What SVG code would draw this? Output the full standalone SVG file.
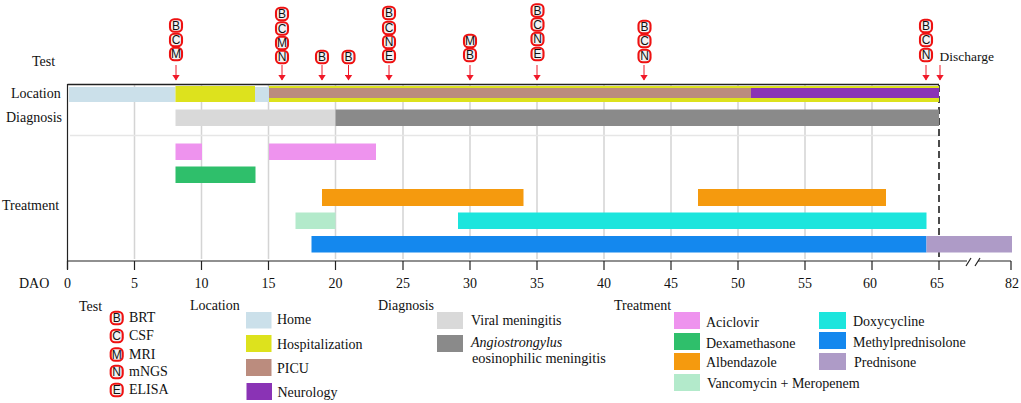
<svg xmlns="http://www.w3.org/2000/svg" width="1021" height="403" viewBox="0 0 1021 403">
<style>
text{font-family:"Liberation Serif","Times New Roman",serif;font-size:14px;fill:#111}
.m{text-anchor:middle}
.b{font-family:"Liberation Sans",Arial,sans-serif;font-size:12px;text-anchor:middle;fill:#111}
.grid{stroke:#d4d4d4;stroke-width:1.5;fill:none}
.ax{stroke:#222;stroke-width:1.2;fill:none}
.arrow{stroke:#f01828;stroke-width:1;fill:none;marker-end:url(#ah)}
.home{fill:#cbe0ea}.hosp{fill:#dde21d}.picu{fill:#bb8c7e}.neuro{fill:#8a33b5}
.viral{fill:#d9d9d9}.ang{fill:#8a8a8a}
.acic{fill:#ee93ee}.dexa{fill:#2fbf6b}.alb{fill:#f59a0e}.vanc{fill:#b3eacb}
.doxy{fill:#1ce5dd}.meth{fill:#1488ee}.pred{fill:#ae9bc7}
</style>
<defs>
<marker id="ah" viewBox="0 0 6 8" refX="5.5" refY="4" markerWidth="6" markerHeight="8" orient="auto" markerUnits="userSpaceOnUse"><path d="M0 0L6 4L0 8Z" fill="#f01828"/></marker>
<rect id="ring" x="-6" y="-6.300" width="12" height="12.600" rx="4.300" fill="#f2f2f2" stroke="#ee1111" stroke-width="2.100"/>
</defs>

<g id="grid">
<path class="grid" d="M134.500 85V259M201.500 85V259M268.500 85V259M335.500 85V259M403 85V259M470 85V259M537 85V259M604 85V259M671 85V259M738 85V259M805 85V259M872 85V259"/>
<path d="M70 135.500H939" stroke="#e6e6e6" stroke-width="1.500" fill="none"/>
<path d="M939 85V261" stroke="#111" stroke-width="1.500" stroke-dasharray="7 4" fill="none"/>
</g>

<g id="location-bars">
<rect class="home" x="69" y="87" width="106.500" height="15"/>
<rect class="hosp" x="175.500" y="86" width="79.500" height="16"/>
<rect class="home" x="255" y="87" width="14" height="15"/>
<rect class="hosp" x="269" y="86" width="670" height="16"/>
<rect class="picu" x="269" y="88" width="482" height="10"/>
<rect class="neuro" x="751" y="88" width="188" height="10"/>
</g>
<g id="diagnosis-bars">
<rect class="viral" x="175.500" y="109.500" width="160" height="16.500"/>
<rect class="ang" x="335.500" y="109.500" width="603.500" height="16.500"/>
</g>
<g id="treatment-bars">
<rect class="acic" x="175.500" y="143.500" width="26.500" height="16.500"/>
<rect class="acic" x="269" y="143.500" width="107" height="16.500"/>
<rect class="dexa" x="175.500" y="166.500" width="80" height="16.500"/>
<rect class="alb" x="322" y="189" width="201.500" height="17"/>
<rect class="alb" x="698" y="189" width="188" height="17"/>
<rect class="vanc" x="295.500" y="212.500" width="40" height="16.500"/>
<rect class="doxy" x="458" y="212.500" width="468.500" height="16.500"/>
<rect class="meth" x="311.500" y="236" width="615" height="16.500"/>
<rect class="pred" x="926.500" y="236" width="85.500" height="16.500"/>
</g>

<g id="axes">
<path d="M67.500 84.500H939" stroke="#222" stroke-width="1.500" fill="none"/>
<path class="ax" d="M67.500 84V269" stroke-width="1.500"/>
<path class="ax" d="M67.500 261H967M978 261H1011"/>
<path class="ax" d="M67.500 261V270M134.500 261V270M201.500 261V270M268.500 261V270M335.500 261V270M403 261V270M470 261V270M537 261V270M604 261V270M671 261V270M738 261V270M805 261V270M872 261V270M939 261V270M1011 261V270"/>
<path class="ax" d="M966 266L971 258M975 266L980 258"/>
</g>

<g id="axis-labels">
<text x="19" y="288">DAO</text>
<text class="m" x="67.500" y="288">0</text><text class="m" x="134.500" y="288">5</text><text class="m" x="201.500" y="288">10</text><text class="m" x="268.500" y="288">15</text><text class="m" x="335.500" y="288">20</text><text class="m" x="403" y="288">25</text><text class="m" x="470" y="288">30</text><text class="m" x="537" y="288">35</text><text class="m" x="604" y="288">40</text><text class="m" x="671" y="288">45</text><text class="m" x="738" y="288">50</text><text class="m" x="805" y="288">55</text><text class="m" x="870" y="288">60</text><text class="m" x="937" y="288">65</text><text class="m" x="1012" y="288">82</text>
</g>

<g id="row-labels">
<text x="32" y="66">Test</text>
<text x="11" y="98">Location</text>
<text x="6" y="122">Diagnosis</text>
<text x="2" y="210">Treatment</text>
<text x="939.500" y="61" font-size="13.500" style="font-size:13.500px">Discharge</text>
</g>

<g id="connectors">
<path class="arrow" d="M176 65V80"/><path class="arrow" d="M282 65V80"/><path class="arrow" d="M322 65V80"/><path class="arrow" d="M348.500 65V80"/><path class="arrow" d="M389 65V80"/><path class="arrow" d="M470 65V80"/><path class="arrow" d="M537 65V80"/><path class="arrow" d="M644 65V80"/><path class="arrow" d="M926 65V80"/><path class="arrow" d="M940 65V80"/>
</g>

<g id="test-d8"><use href="#ring" x="176" y="25.500"/><text class="b" x="176" y="29.800">B</text><use href="#ring" x="176" y="40"/><text class="b" x="176" y="44.300">C</text><use href="#ring" x="176" y="54"/><text class="b" x="176" y="58.300">M</text></g>
<g id="test-d16"><use href="#ring" x="282" y="14"/><text class="b" x="282" y="18.300">B</text><use href="#ring" x="282" y="28.500"/><text class="b" x="282" y="32.800">C</text><use href="#ring" x="282" y="43"/><text class="b" x="282" y="47.300">M</text><use href="#ring" x="282" y="57"/><text class="b" x="282" y="61.300">N</text></g>
<g id="test-d19"><use href="#ring" x="322" y="57"/><text class="b" x="322" y="61.300">B</text></g>
<g id="test-d21"><use href="#ring" x="348.500" y="57"/><text class="b" x="348.500" y="61.300">B</text></g>
<g id="test-d24"><use href="#ring" x="389" y="13"/><text class="b" x="389" y="17.300">B</text><use href="#ring" x="389" y="28"/><text class="b" x="389" y="32.300">C</text><use href="#ring" x="389" y="42"/><text class="b" x="389" y="46.300">N</text><use href="#ring" x="389" y="56"/><text class="b" x="389" y="60.300">E</text></g>
<g id="test-d30"><use href="#ring" x="470" y="41"/><text class="b" x="470" y="45.300">M</text><use href="#ring" x="470" y="55"/><text class="b" x="470" y="59.300">B</text></g>
<g id="test-d35"><use href="#ring" x="537.500" y="10.500"/><text class="b" x="537.500" y="14.800">B</text><use href="#ring" x="537.500" y="24.500"/><text class="b" x="537.500" y="28.800">C</text><use href="#ring" x="537.500" y="39"/><text class="b" x="537.500" y="43.300">N</text><use href="#ring" x="537.500" y="54"/><text class="b" x="537.500" y="58.300">E</text></g>
<g id="test-d43"><use href="#ring" x="644.500" y="27"/><text class="b" x="644.500" y="31.300">B</text><use href="#ring" x="644.500" y="41"/><text class="b" x="644.500" y="45.300">C</text><use href="#ring" x="644.500" y="56"/><text class="b" x="644.500" y="60.300">N</text></g>
<g id="test-d64"><use href="#ring" x="926" y="26"/><text class="b" x="926" y="30.300">B</text><use href="#ring" x="926" y="40"/><text class="b" x="926" y="44.300">C</text><use href="#ring" x="926" y="55"/><text class="b" x="926" y="59.300">N</text></g>

<g id="legend-test">
<text x="79" y="311">Test</text>
<use href="#ring" x="116.700" y="318"/><text class="b" x="116.700" y="322.300">B</text><text x="129" y="322">BRT</text>
<use href="#ring" x="116.700" y="336"/><text class="b" x="116.700" y="340.300">C</text><text x="129" y="340">CSF</text>
<use href="#ring" x="116.700" y="354.500"/><text class="b" x="116.700" y="358.800">M</text><text x="129" y="358.500">MRI</text>
<use href="#ring" x="116.700" y="372"/><text class="b" x="116.700" y="376.300">N</text><text x="129" y="376">mNGS</text>
<use href="#ring" x="116.700" y="390"/><text class="b" x="116.700" y="394.300">E</text><text x="129" y="394">ELISA</text>
</g>
<g id="legend-location">
<text x="190" y="310">Location</text>
<rect class="home" x="246" y="312" width="25.500" height="16.500"/><text x="277" y="324">Home</text>
<rect class="hosp" x="246" y="335" width="25.500" height="17"/><text x="277" y="349">Hospitalization</text>
<rect class="picu" x="246" y="359" width="25.500" height="17"/><text x="277" y="373">PICU</text>
<rect class="neuro" x="246.500" y="383" width="25.500" height="17"/><text x="277.500" y="397">Neurology</text>
</g>
<g id="legend-diagnosis">
<text x="378" y="310">Diagnosis</text>
<rect class="viral" x="437" y="312" width="26" height="17"/><text x="471" y="325">Viral meningitis</text>
<rect class="ang" x="437" y="335" width="26" height="17"/><text x="471" y="347"><tspan font-style="italic">Angiostrongylus</tspan></text><text x="472" y="363" style="font-size:14.300px">eosinophilic meningitis</text>
</g>
<g id="legend-treatment">
<text x="614" y="310">Treatment</text>
<rect class="acic" x="674" y="312" width="26" height="17"/><text x="706" y="327">Aciclovir</text>
<rect class="dexa" x="674" y="333" width="26" height="17"/><text x="706" y="348">Dexamethasone</text>
<rect class="alb" x="674" y="353" width="26" height="17"/><text x="706" y="367">Albendazole</text>
<rect class="vanc" x="674" y="374" width="26" height="17"/><text x="707" y="388">Vancomycin + Meropenem</text>
<rect class="doxy" x="819" y="312" width="27" height="17"/><text x="853" y="326">Doxycycline</text>
<rect class="meth" x="819" y="332" width="27" height="17"/><text x="853" y="347">Methylprednisolone</text>
<rect class="pred" x="819" y="353" width="27" height="17"/><text x="854" y="367">Prednisone</text>
</g>
</svg>
